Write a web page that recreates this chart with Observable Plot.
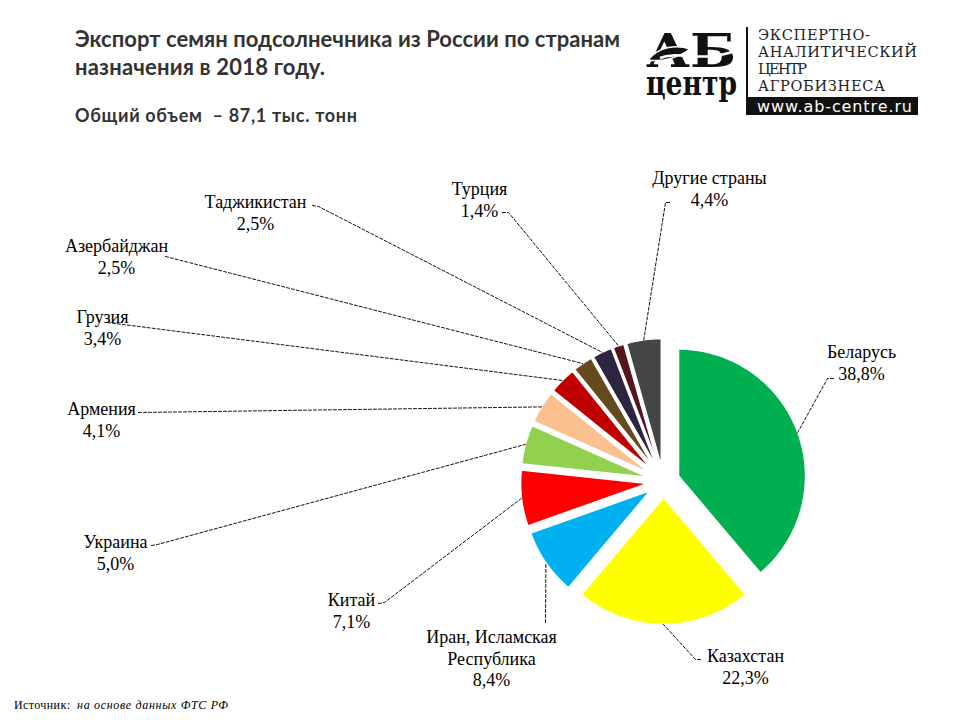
<!DOCTYPE html>
<html><head><meta charset="utf-8">
<script src="https://cdn.jsdelivr.net/npm/d3@7"></script>
<script src="https://cdn.jsdelivr.net/npm/@observablehq/plot@0.6"></script>
<style>
body{margin:0;background:#fff;}
#wrap{position:relative;width:960px;height:720px;overflow:hidden;background:#fff;}
#head{position:absolute;left:0;top:0;}
#chart{position:absolute;left:0;top:130px;}
#foot{position:absolute;left:0;top:690px;}
</style></head><body>
<div id="wrap">
<svg id="head" width="960" height="130">
  <g font-family="Lato" font-weight="700" fill="#333">
    <text x="75" y="47" font-size="22" textLength="545">Экспорт семян подсолнечника из России по странам</text>
    <text x="75" y="75" font-size="22" textLength="250">назначения в 2018 году.</text>
    <text x="75" y="122" font-size="18" textLength="282" xml:space="preserve">Общий объем  – 87,1 тыс. тонн</text>
  </g>
  <g fill="#111">
    <text font-family="DejaVu Serif" font-weight="700"><tspan x="646" y="67" font-size="46" textLength="90" lengthAdjust="spacingAndGlyphs">АБ</tspan><tspan x="646" y="95" font-size="34" textLength="91" lengthAdjust="spacingAndGlyphs">центр</tspan></text>
    <path d="M648,60 C658,47 676,44 690,49 C678,58 662,62 648,60 Z" fill="#111" stroke="#fff" stroke-width="1.5"/>
    <path d="M660,58 C680,50 700,64 738,50" stroke="#fff" stroke-width="2.5" fill="none"/>
    <rect x="746" y="27" width="2" height="88"/>
    <text font-family="DejaVu Serif" font-size="14.5" fill="#222"><tspan x="758" y="40" textLength="112">ЭКСПЕРТНО-</tspan><tspan x="758" y="57" textLength="159">АНАЛИТИЧЕСКИЙ</tspan><tspan x="758" y="74" textLength="49">ЦЕНТР</tspan><tspan x="758" y="91" textLength="127">АГРОБИЗНЕСА</tspan></text>
    <rect x="748" y="97" width="170" height="18" fill="#111"/>
    <text x="757" y="112" font-family="DejaVu Sans" font-size="16" fill="#fff" textLength="155">www.ab-centre.ru</text>
  </g>
</svg>
<div id="chart"></div>
<svg id="foot" width="400" height="30">
  <text x="14" y="19" font-family="Liberation Serif" font-size="12" fill="#000" textLength="56">Источник:</text>
  <text x="77" y="19" font-family="Liberation Serif" font-style="italic" font-size="12" fill="#000" textLength="151">на основе данных ФТС РФ</text>
</svg>
</div>
<script>
// ---- data ----
const countries = ["Беларусь", "Казахстан", "Иран, Исламская Республика", "Китай", "Украина", "Армения", "Грузия", "Азербайджан", "Таджикистан", "Турция", "Другие страны"];
const shares = [38.8, 22.3, 8.4, 7.1, 5.0, 4.1, 3.4, 2.5, 2.5, 1.4, 4.4];
const sliceColors = ["#00B050", "#FFFF00", "#00B0F0", "#FF0000", "#92D050", "#FAC090", "#C00000", "#644A1E", "#2B2540", "#55141E", "#454545"];

// ---- layout (page pixel coordinates) ----
const CX = 663, CY = 481, R = 127, EXPLODE = 16;
const labelLayout = {
  "Беларусь": {x: 861, base: 355, lead: [[833, 378], [827, 378]]},
  "Казахстан": {x: 745, base: 659, lead: [[700, 659], [695, 659]]},
  "Иран, Исламская Республика": {x: 491, base: 640, lead: [[545, 622]]},
  "Китай": {x: 351, base: 603, lead: [[378, 603], [384, 602]]},
  "Украина": {x: 115, base: 545, lead: [[151, 545], [157, 544]]},
  "Армения": {x: 101, base: 412, lead: [[138, 412]]},
  "Грузия": {x: 102, base: 320, lead: [[107, 322]]},
  "Азербайджан": {x: 116, base: 249, lead: [[165, 256]]},
  "Таджикистан": {x: 255, base: 205, lead: [[312, 205], [318, 206]]},
  "Турция": {x: 479, base: 192, lead: [[502, 212], [508, 212]]},
  "Другие страны": {x: 709, base: 181, lead: [[669, 202], [665, 202]]}
};
const FS = 18;

const arcs = d3.pie().sort(null).value(d => d)(shares);
const slices = arcs.map((p, i) => {
  const mid = (p.startAngle + p.endAngle) / 2;
  return {name: countries[i], value: shares[i], a0: p.startAngle, a1: p.endAngle, mid,
    ox: CX + EXPLODE * Math.sin(mid), oy: CY - EXPLODE * Math.cos(mid)};
});
const slicePts = slices.flatMap(s => {
  const n = Math.max(2, Math.ceil((s.a1 - s.a0) / (Math.PI / 180)));
  const pts = [{name: s.name, x: s.ox, y: s.oy}];
  for (let k = 0; k <= n; k++) {
    const a = s.a0 + (s.a1 - s.a0) * k / n;
    pts.push({name: s.name, x: s.ox + R * Math.sin(a), y: s.oy - R * Math.cos(a)});
  }
  return pts;
});
const leaderPts = slices.flatMap(s => {
  const L = labelLayout[s.name];
  const pts = L.lead.map(([x, y]) => ({name: s.name, x, y}));
  pts.push({name: s.name, x: s.ox + R * Math.sin(s.mid), y: s.oy - R * Math.cos(s.mid)});
  return pts;
});
const labelRows = slices.map(s => {
  const L = labelLayout[s.name];
  return {name: s.name, x: L.x, y: L.base - 0.71 * FS,
    label: s.name.replace("Исламская ", "Исламская\n") + "\n" + s.value.toFixed(1).replace(".", ",") + "%"};
});

const chart = Plot.plot({
  width: 960, height: 560, margin: 0,
  style: {background: "transparent", overflow: "visible"},
  x: {domain: [0, 960], range: [0, 960], axis: null},
  y: {domain: [130, 690], range: [0, 560], axis: null},
  color: {domain: countries, range: sliceColors},
  marks: [
    Plot.line(slicePts, {x: "x", y: "y", z: "name", fill: "name", stroke: "white", strokeWidth: 1.5, curve: "linear-closed"}),
    Plot.line(leaderPts, {x: "x", y: "y", z: "name", stroke: "#111", strokeWidth: 1, strokeDasharray: "3,2"}),
    Plot.text(labelRows, {x: "x", y: "y", text: "label", fontFamily: "Liberation Serif", fontSize: FS, lineAnchor: "top", lineHeight: 1.2, textAnchor: "middle", fill: "#000"})
  ]
});
document.getElementById("chart").appendChild(chart);
</script>
</body></html>
